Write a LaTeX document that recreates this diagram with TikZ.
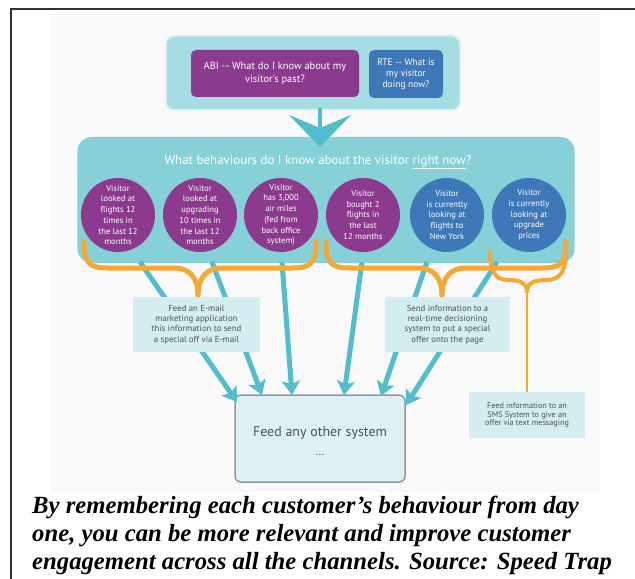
\documentclass[tikz,border=0pt]{standalone}
\usepackage{fontspec}
\setmainfont{Liberation Serif}
\newfontfamily\diag{PT Sans}
\usetikzlibrary{arrows.meta}
\definecolor{framec}{HTML}{333333}
\definecolor{topboxc}{HTML}{A6DDE2}
\definecolor{panelc}{HTML}{86D0D7}
\definecolor{purp}{HTML}{8C3A8E}
\definecolor{blu}{HTML}{3F78B8}
\definecolor{orng}{HTML}{F5A935}
\definecolor{cyanarr}{HTML}{52BDCC}
\definecolor{feedfill}{HTML}{D3EDF0}
\definecolor{txtgray}{HTML}{505050}
\definecolor{otherfill}{HTML}{DDF1F4}
\definecolor{otherborder}{HTML}{8E97AA}
\definecolor{bgfaint}{HTML}{F9F9F9}
\tikzset{
  circ/.style={circle, minimum size=74bp, inner sep=0pt, align=center, text=white,
    font=\diag\fontsize{8.6}{10.8}\selectfont},
  feedbox/.style={rectangle, fill=feedfill, text=txtgray, align=center, inner sep=0pt,
    font=\diag\fontsize{8.8}{10.3}\selectfont},
  cyarrow/.style={draw=cyanarr, line width=5bp, -{Stealth[width=18bp,length=14bp,inset=3bp]}},
  bracepath/.style={draw=orng, line width=5bp, line cap=round, line join=round},
  captionline/.style={anchor=base west, inner sep=0pt, font=\fontsize{24.8}{28}\selectfont\bfseries\itshape}
}
\begin{document}
\begin{tikzpicture}[x=1bp,y=-1bp]
\useasboundingbox (0,0) rectangle (635,579);
\fill[bgfaint] (50,14) rectangle (600,492);
\draw[framec, line width=1.3bp] (11,579) -- (11,9) -- (635,9);

% top box
\node[rectangle, rounded corners=8bp, fill=topboxc, draw=white!60!topboxc, line width=1.5bp,
  minimum width=294bp, minimum height=74bp] (topbox) at (313,73) {};
\node[rectangle, rounded corners=5bp, fill=purp, minimum width=168bp, minimum height=47bp,
  text=white, align=center, font=\diag\fontsize{10.5}{13.5}\selectfont] (abi) at (275,73.5)
  {ABI -- What do I know about my\\visitor's past?};
\node[rectangle, rounded corners=5bp, fill=blu, minimum width=74bp, minimum height=48bp,
  text=white, align=center, font=\diag\fontsize{9.5}{11}\selectfont] (rte) at (406,74)
  {RTE -- What is\\my visitor\\doing now?};

% panel
\node[rectangle, rounded corners=14bp, fill=panelc, minimum width=497bp, minimum height=126bp]
  (panel) at (326,200) {};
\coordinate (arrtop) at (320,108);
\coordinate (arrtip) at (320,147);
\draw[draw=cyanarr, line width=4bp, -{Stealth[width=62bp,length=32bp,inset=13bp]}] (arrtop) -- (arrtip);

\node[text=white, font=\diag\fontsize{13}{15}\selectfont] (head) at (318,162)
  {What behaviours do I know about the visitor \underline{right now}?};

\node[circ, fill=purp] (c1) at (118,215) {Visitor\\looked at\\flights 12\\times in\\the last 12\\months};
\node[circ, fill=purp] (c2) at (200,215) {Visitor\\looked at\\upgrading\\10 times in\\the last 12\\months};
\node[circ, fill=purp] (c3) at (281,215) {Visitor\\has 3,000\\air miles\\(fed from\\back office\\system)};
\node[circ, fill=purp] (c4) at (363,215) {Visitor\\bought 2\\flights in\\the last\\12 months};
\node[circ, fill=blu] (c5) at (447,215) {Visitor\\is currently\\looking at\\flights to\\New York};
\node[circ, fill=blu] (c6) at (529,215) {Visitor\\is currently\\looking at\\upgrade\\prices};

% other system box
\node[rectangle, rounded corners=6bp, fill=otherfill, draw=otherborder, line width=1.5bp,
  minimum width=170bp, minimum height=87bp] (other) at (320,438.5) {};
\node[text=txtgray, font=\diag\fontsize{14}{16}\selectfont] (othertxt) at (320,433) {Feed any other system};
\node[text=txtgray, font=\diag\fontsize{11}{12}\selectfont] (otherdots) at (320,455) {...};

% cyan arrows
\coordinate (s1) at (140,262); \coordinate (t1) at (237,402);
\coordinate (s2) at (212,262); \coordinate (t2) at (262,395);
\coordinate (s3) at (282,262); \coordinate (t3) at (292,395);
\coordinate (s4) at (362,262); \coordinate (t4) at (344,395);
\coordinate (s5) at (427,262); \coordinate (t5) at (381,396);
\coordinate (s6) at (497,262); \coordinate (t6) at (406,405);
\foreach \i in {1,...,6} { \draw[cyarrow] (s\i) -- (t\i); }

% orange braces
\draw[bracepath] (84,242) .. controls (84,264) and (90,268) .. (108,268) -- (174,268)
  .. controls (190,268) and (198,278) .. (198,296)
  .. controls (198,278) and (206,268) .. (222,268) -- (292,268)
  .. controls (310,268) and (316,264) .. (316,242);
\draw[bracepath] (326,242) .. controls (326,264) and (332,268) .. (350,268) -- (418,268)
  .. controls (434,268) and (442,278) .. (442,296)
  .. controls (442,278) and (450,268) .. (466,268) -- (542,268)
  .. controls (560,268) and (566,264) .. (566,242);
\draw[bracepath, line width=4bp] (490,252) .. controls (490,272) and (496,280) .. (508,280)
  .. controls (520,280) and (527,283) .. (527,292)
  .. controls (527,283) and (534,280) .. (546,280)
  .. controls (560,280) and (566,272) .. (566,250);
\coordinate (b3tip) at (527,292);

% feed boxes
\node[feedbox, minimum width=127bp, minimum height=55bp] (email) at (196.5,324.5)
  {Feed an E-mail\\marketing application\\this information to send\\a special off via E-mail};
\node[feedbox, minimum width=125bp, minimum height=55bp] (send) at (447.5,324.5)
  {Send information to a\\real-time decisioning\\system to put a special\\offer onto the page};
\node[feedbox, minimum width=116bp, minimum height=46bp, font=\diag\fontsize{8.2}{8.8}\selectfont] (sms) at (527,415)
  {Feed information to an\\SMS System to give an\\offer via text messaging};
\draw[draw=orng, line width=2.5bp] (b3tip) -- (sms.north);

% caption
\node[captionline] (cap1) at (32,513) {By remembering each customer’s behaviour from day};
\node[captionline] (cap2) at (32,541) {one, you can be more relevant and improve customer};
\node[captionline] (cap3) at (32,569) {engagement across all the channels. Source: Speed Trap};
\end{tikzpicture}
\end{document}
